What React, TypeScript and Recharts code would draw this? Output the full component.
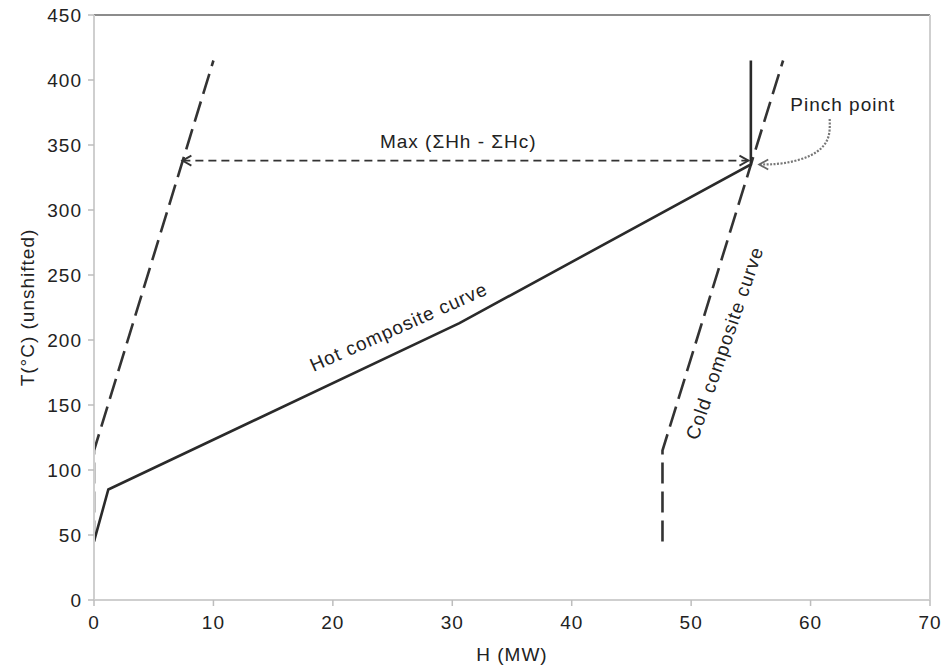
import { ComposedChart, Line, XAxis, YAxis, ReferenceLine, ReferenceDot } from "recharts"

// hot composite curve (solid)
const hotH = [0, 1.2, 30.6, 55, 55]
const hotT = [45, 85, 213, 335, 415]

// cold composite curve (dashed, right)
const coldH = [47.6, 47.6, 57.7]
const coldT = [45, 115, 415]

// shifted curve (dashed, left)
const leftH = [0, 0, 10]
const leftT = [45, 115, 415]

// max (ΣHh - ΣHc) double arrow
const spanH = [7.4, 54.8]
const spanT = [338, 338]

// dotted pointer to the pinch
const pinchH = [61.6, 61.4, 60.0, 57.7, 55.7]
const pinchT = [370, 354, 342, 336, 335]

const xTicks = [0, 10, 20, 30, 40, 50, 60, 70]
const yTicks = [0, 50, 100, 150, 200, 250, 300, 350, 400, 450]

const rows = (hs: number[], ts: number[]) => hs.map((h, i) => ({ h, t: ts[i] }))

const ink = "#2a2a2a"
const font = "'Liberation Sans', Arial, sans-serif"

const spanEnds = (p: any) => {
    const { cx, cy, index } = p
    if (index === 0)
        return <path key={`s${index}`} d={`M${cx + 9},${cy - 5}L${cx},${cy}L${cx + 9},${cy + 5}`} fill="none" stroke="#333" strokeWidth={1.8} />
    return <path key={`s${index}`} d={`M${cx - 9},${cy - 5}L${cx},${cy}L${cx - 9},${cy + 5}`} fill="none" stroke="#333" strokeWidth={1.8} />
}

const pinchEnd = (p: any) => {
    const { cx, cy, index } = p
    if (index !== pinchH.length - 1) return <g key={`p${index}`} />
    return <path key={`p${index}`} d={`M${cx + 9},${cy - 5}L${cx},${cy}L${cx + 9},${cy + 5}`} fill="none" stroke="#666" strokeWidth={1.8} />
}

const note = (text: string, angle = 0) => (p: any) => (
    <text
        x={p.cx}
        y={p.cy}
        textAnchor="middle"
        dominantBaseline="central"
        fontSize={19}
        letterSpacing={1}
        fill="#222"
        fontFamily={font}
        transform={angle ? `rotate(${angle} ${p.cx} ${p.cy})` : undefined}
    >
        {text}
    </text>
)

export default function App() {
    return (
        <div style={{ position: "absolute", left: 0, top: 0, background: "#fff", fontFamily: font }}>
            <ComposedChart width={949} height={667} margin={{ top: 15, right: 19, bottom: 22, left: 6 }}>
                <XAxis
                    type="number"
                    dataKey="h"
                    domain={[0, 70]}
                    ticks={xTicks}
                    allowDataOverflow
                    height={45}
                    axisLine={{ stroke: "#cfcfcf", strokeWidth: 2 }}
                    tickLine={{ stroke: "#bdbdbd", strokeWidth: 1.5 }}
                    tickSize={6}
                    tickMargin={10}
                    tick={{ fill: "#222", fontSize: 19, letterSpacing: 1 }}
                    label={{
                        content: ({ viewBox }: any) => (
                            <text x={viewBox.x + viewBox.width / 2} y={viewBox.y + 61} textAnchor="middle" fontSize={19} letterSpacing={1} fill="#222" fontFamily={font}>
                                H (MW)
                            </text>
                        ),
                    }}
                />
                <YAxis
                    type="number"
                    dataKey="t"
                    domain={[0, 450]}
                    ticks={yTicks}
                    allowDataOverflow
                    width={88}
                    axisLine={{ stroke: "#cfcfcf", strokeWidth: 2 }}
                    tickLine={{ stroke: "#bdbdbd", strokeWidth: 1.5 }}
                    tickSize={6}
                    tickMargin={6}
                    tick={{ fill: "#222", fontSize: 19, letterSpacing: 1 }}
                    label={{
                        content: ({ viewBox }: any) => {
                            const x = viewBox.x + 21
                            const y = viewBox.y + viewBox.height / 2
                            return (
                                <text x={x} y={y} textAnchor="middle" dominantBaseline="central" fontSize={19} letterSpacing={1} fill="#222" fontFamily={font} transform={`rotate(-90 ${x} ${y})`}>
                                    T(°C) (unshifted)
                                </text>
                            )
                        },
                    }}
                />
                <ReferenceLine y={450} stroke="#666" strokeWidth={1.5} />
                <ReferenceLine x={70} stroke="#cfcfcf" strokeWidth={2} />

                <Line data={rows(leftH, leftT)} dataKey="t" type="linear" stroke="#333" strokeWidth={2.6} strokeDasharray="21 8" dot={false} isAnimationActive={false} />
                <Line data={rows(coldH, coldT)} dataKey="t" type="linear" stroke="#333" strokeWidth={2.6} strokeDasharray="21 8" dot={false} isAnimationActive={false} />
                <Line data={rows(hotH, hotT)} dataKey="t" type="linear" stroke={ink} strokeWidth={2.6} dot={false} isAnimationActive={false} />
                <Line data={rows(spanH, spanT)} dataKey="t" type="linear" stroke="#333" strokeWidth={1.8} strokeDasharray="8 5" dot={spanEnds} activeDot={false} isAnimationActive={false} />
                <Line data={rows(pinchH, pinchT)} dataKey="t" type="natural" stroke="#777" strokeWidth={2.2} strokeDasharray="2 1.5" dot={pinchEnd} activeDot={false} isAnimationActive={false} />

                <ReferenceDot x={30.5} y={353} r={0} shape={note("Max (ΣHh - ΣHc)")} />
                <ReferenceDot x={62.7} y={381.5} r={0} shape={note("Pinch point")} />
                <ReferenceDot x={25.5} y={210} r={0} shape={note("Hot composite curve", -24)} />
                <ReferenceDot x={52.8} y={197.7} r={0} shape={note("Cold composite curve", -71)} />
            </ComposedChart>
        </div>
    )
}
